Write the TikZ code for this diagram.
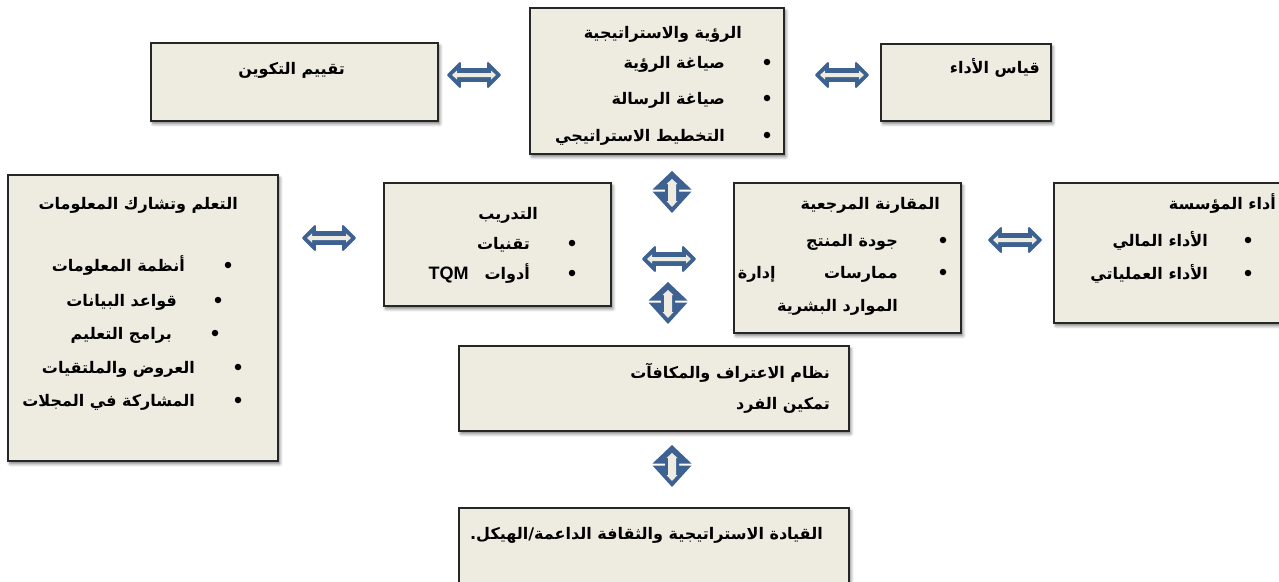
\documentclass[tikz,border=0pt]{standalone}
\usepackage{fontspec}
\setmainfont{Liberation Sans}
\newfontfamily\arabicfont[Script=Arabic]{DejaVu Sans}
\newfontfamily\latinfont{Liberation Sans}
\TeXXeTstate=1
\usetikzlibrary{shadows.blur}

\definecolor{boxfill}{HTML}{EEECE1}
\definecolor{arrowblue}{HTML}{3D6191}

\tikzset{
  panel/.style={draw=black!85, line width=1.8pt, fill=boxfill, inner sep=0pt,
    anchor=north west,
    blur shadow={shadow xshift=2pt, shadow yshift=-3pt, shadow blur steps=6,
      shadow blur radius=3pt, shadow opacity=50}},
  txt/.style={inner sep=0pt, anchor=base east,
    font=\arabicfont\bfseries\fontsize{16}{18}\selectfont},
  dot/.style={circle, fill=black, inner sep=0pt, minimum size=6.5pt},
  harrow/.pic={
    \filldraw[arrowblue, line width=1.8pt, line join=round]
      (-26,0) -- (-14,-12) -- (-14,-6) -- (14,-6) -- (14,-12) -- (26,0)
      -- (14,12) -- (14,6) -- (-14,6) -- (-14,12) -- cycle;
    \fill[boxfill] (-22,0) -- (-17,-4.5) -- (-17,-2) -- (17,-2) -- (17,-4.5)
      -- (22,0) -- (17,4.5) -- (17,2) -- (-17,2) -- (-17,4.5) -- cycle;
  },
  varrow/.pic={
    \fill[arrowblue]
      (0,-21) -- (19.5,-2.5) -- (7,-2.5) -- (7,-0.5) -- (19.5,-0.5) -- (0,21)
      -- (-19.5,-0.5) -- (-7,-0.5) -- (-7,-2.5) -- (-19.5,-2.5) -- cycle;
    \fill[boxfill] (0,-13) -- (5.5,-8) -- (4,-8) -- (4,9) -- (5.5,9) -- (0,15)
      -- (-5.5,9) -- (-4,9) -- (-4,-8) -- (-5.5,-8) -- cycle;
  },
}

\begin{document}
\begin{tikzpicture}[x=1pt, y=-1pt]
  \useasboundingbox (0,0) rectangle (1279,581);

  % ---- boxes ----
  \node[panel, minimum width=254pt, minimum height=146pt] (vision) at (529,7) {};
  \node[panel, minimum width=287pt, minimum height=78pt] (evalbox) at (150,42) {};
  \node[panel, minimum width=170pt, minimum height=77pt] (measure) at (880,43) {};
  \node[panel, minimum width=270pt, minimum height=286pt] (learn) at (7,174) {};
  \node[panel, minimum width=227pt, minimum height=123pt] (train) at (383,182) {};
  \node[panel, minimum width=227pt, minimum height=150pt] (bench) at (733,182) {};
  \node[panel, minimum width=232pt, minimum height=140pt] (perf) at (1053,182) {};
  \node[panel, minimum width=390pt, minimum height=85pt] (reward) at (458,345) {};
  \node[panel, minimum width=390pt, minimum height=90pt] (lead) at (458,507) {};

  % ---- vision and strategy ----
  \node[txt] (visT) at (742,38) {\beginR الرؤية والاستراتيجية\endR};
  \node[dot] (visD1) at (767,62) {};
  \node[txt] (vis1) at (725,68) {\beginR صياغة الرؤية\endR};
  \node[dot] (visD2) at (767,98) {};
  \node[txt] (vis2) at (725,104) {\beginR صياغة الرسالة\endR};
  \node[dot] (visD3) at (767,135) {};
  \node[txt] (vis3) at (725,141) {\beginR التخطيط الاستراتيجي\endR};

  % ---- side boxes of the top row ----
  \node[txt] (evalT) at (345,74) {\beginR تقييم التكوين\endR};
  \node[txt] (measT) at (1040,73) {\beginR قياس الأداء\endR};

  % ---- learning and information sharing ----
  \node[txt] (learnT) at (238,209) {\beginR التعلم وتشارك المعلومات\endR};
  \node[dot] (lD1) at (228,265) {};
  \node[txt] (l1) at (185,271) {\beginR أنظمة المعلومات\endR};
  \node[dot] (lD2) at (218,300) {};
  \node[txt] (l2) at (177,306) {\beginR قواعد البيانات\endR};
  \node[dot] (lD3) at (215,333) {};
  \node[txt] (l3) at (172,339) {\beginR برامج التعليم\endR};
  \node[dot] (lD4) at (238,367) {};
  \node[txt] (l4) at (195,373) {\beginR العروض والملتقيات\endR};
  \node[dot] (lD5) at (238,400) {};
  \node[txt] (l5) at (195,406) {\beginR المشاركة في المجلات\endR};

  % ---- training ----
  \node[txt] (trT) at (538,219) {\beginR التدريب\endR};
  \node[dot] (trD1) at (572,243) {};
  \node[txt] (tr1) at (530,249) {\beginR تقنيات\endR};
  \node[dot] (trD2) at (572,273) {};
  \node[txt] (tr2) at (530,279) {\beginR أدوات\hspace{16pt}\beginL{\latinfont\bfseries\fontsize{18}{20}\selectfont TQM}\endL\endR};

  % ---- benchmarking ----
  \node[txt] (bT) at (940,209) {\beginR المقارنة المرجعية\endR};
  \node[dot] (bD1) at (943,240) {};
  \node[txt] (b1) at (898,246) {\beginR جودة المنتج\endR};
  \node[dot] (bD2) at (943,272) {};
  \node[txt] (b2) at (898,278) {\hbox to 160pt{\beginR ممارسات\hfill إدارة\endR}};
  \node[txt] (b3) at (898,311) {\beginR الموارد البشرية\endR};

  % ---- organisational performance ----
  \node[txt] (pT) at (1276,209) {\beginR أداء المؤسسة\endR};
  \node[dot] (pD1) at (1248,240) {};
  \node[txt] (p1) at (1208,246) {\beginR الأداء المالي\endR};
  \node[dot] (pD2) at (1248,273) {};
  \node[txt] (p2) at (1208,279) {\beginR الأداء العملياتي\endR};

  % ---- recognition and leadership ----
  \node[txt] (rw1) at (830,378) {\beginR نظام الاعتراف والمكافآت\endR};
  \node[txt] (rw2) at (830,409) {\beginR تمكين الفرد\endR};
  \node[txt] (ld1) at (823,539) {\beginR القيادة الاستراتيجية والثقافة الداعمة/الهيكل.\endR};

  % ---- two-way block arrows between the boxes ----
  \pic at (474,75) {harrow};
  \pic at (842,75) {harrow};
  \pic at (672,192) {varrow};
  \pic at (669,259) {harrow};
  \pic at (668,303) {varrow};
  \pic at (329,238) {harrow};
  \pic at (1015,240) {harrow};
  \pic at (672,466) {varrow};
\end{tikzpicture}
\end{document}
